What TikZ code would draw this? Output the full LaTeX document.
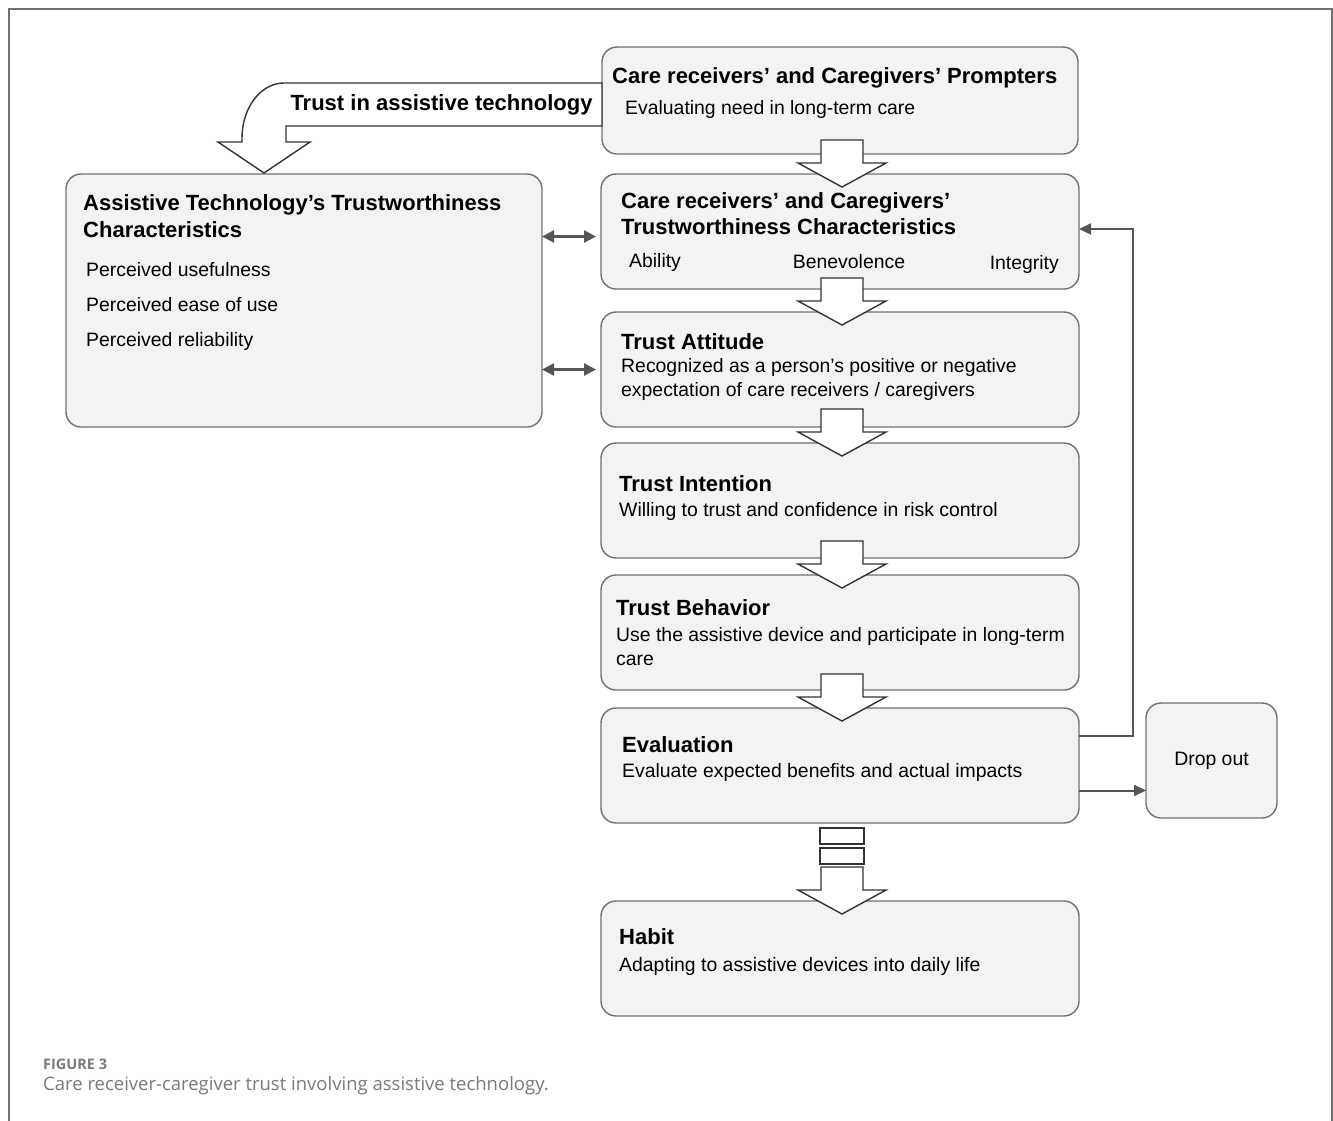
\documentclass[tikz,border=0pt]{standalone}
\usepackage{fontspec}
\setmainfont{Liberation Sans}
\newfontfamily\capfont{Open Sans}
\usetikzlibrary{positioning,arrows.meta}

\definecolor{boxfill}{HTML}{F3F3F3}
\definecolor{boxline}{HTML}{707070}
\definecolor{linkgray}{HTML}{555555}
\definecolor{capgray}{HTML}{7A7A7A}

\newcommand{\boxtitle}[1]{{\fontsize{22}{26}\selectfont\bfseries #1}}
\newcommand{\bodyfont}{\fontsize{19.4}{23.5}\selectfont}

\begin{document}
\begin{tikzpicture}[x=1pt, y=-1pt,
    main/.style = {draw=boxline, fill=boxfill, line width=1.4pt, rounded corners=15pt,
        minimum width=478pt, minimum height=115pt, inner sep=0pt, outer sep=0pt},
    txt/.style = {anchor=north west, align=left, inner sep=0pt, font=\bodyfont},
    item/.style = {inner sep=0pt, font=\bodyfont},
    blk/.style = {draw=black!80, fill=white, line width=1.4pt},
    link/.style = {draw=linkgray, line width=2pt, -{Triangle[length=12pt,width=11pt]}},
    both/.style = {draw=linkgray, line width=2.6pt, {Triangle[length=12pt,width=12pt]}-{Triangle[length=12pt,width=12pt]}}]
    \useasboundingbox (0,0) rectangle (1333,1120);
    \draw[boxline, line width=1.5pt] (9,1130) -- (9,9) -- (1332,9) -- (1332,1130);

    \node[main, minimum width=476pt, minimum height=107pt] (1) at (840,100.5) {};
    \node[main, below=20pt of 1] (2) {};
    \node[main, below=23pt of 2] (3) {};
    \node[main, below=16pt of 3] (4) {};
    \node[main, below=17pt of 4] (5) {};
    \node[main, below=18pt of 5] (6) {};
    \node[main, below=78pt of 6] (7) {};
    \node[main, minimum width=476pt, minimum height=253pt, anchor=north east] (8) at ([xshift=-59pt]2.north west) {};
    \node[main, minimum width=131pt, right=67pt of 6, yshift=5pt, font=\bodyfont] (9) {Drop out};

    \node[txt] (1t) at ([shift={(10,20)}]1.north west) {\boxtitle{Care receivers’ and Caregivers’ Prompters}\\[7.5pt]\hspace*{13pt}Evaluating need in long-term care};
    \node[txt] (2t) at ([shift={(20,18)}]2.north west) {\boxtitle{Care receivers’ and Caregivers’}\\[2.5pt]\boxtitle{Trustworthiness Characteristics}};
    \node[item, anchor=west] (ab) at ([shift={(28,88)}]2.north west) {Ability};
    \node[item] (be) at ([shift={(248,88)}]2.north west) {Benevolence};
    \node[item, anchor=east] (in) at ([shift={(458,90)}]2.north west) {Integrity};
    \node[txt] (3t) at ([shift={(20,21)}]3.north west) {\boxtitle{Trust Attitude}\\Recognized as a person’s positive or negative\\expectation of care receivers / caregivers};
    \node[txt] (4t) at ([shift={(18,32)}]4.north west) {\boxtitle{Trust Intention}\\[1.5pt]Willing to trust and confidence in risk control};
    \node[txt] (5t) at ([shift={(15,24)}]5.north west) {\boxtitle{Trust Behavior}\\[3pt]Use the assistive device and participate in long-term\\care};
    \node[txt] (6t) at ([shift={(21,28)}]6.north west) {\boxtitle{Evaluation}\\[1.5pt]Evaluate expected benefits and actual impacts};
    \node[txt] (7t) at ([shift={(18,27)}]7.north west) {\boxtitle{Habit}\\[4pt]Adapting to assistive devices into daily life};
    \node[txt] (8t) at ([shift={(17,20)}]8.north west) {\boxtitle{Assistive Technology’s Trustworthiness}\\[3.5pt]\boxtitle{Characteristics}\\[15.5pt]\hspace*{3pt}Perceived usefulness\\[11.5pt]\hspace*{3pt}Perceived ease of use\\[11.5pt]\hspace*{3pt}Perceived reliability};

    \draw[blk] (602,83) -- (284,83) arc[start angle=90, end angle=180, x radius=42pt, y radius=55pt]
        -- (242,142) -- (218,142) -- (264,173) -- (310,142) -- (286,142) -- (286,126) -- (602,126) -- cycle;
    \node[inner sep=0pt] (lbl) at (441.5,105) {\boxtitle{Trust in assistive technology}};

    \foreach \b in {2,...,7}
        \draw[blk] ([xshift=-19pt,yshift=34pt]\b.north) -- ++(0,23) -- ++(-23,0) -- ++(44,24) -- ++(44,-24) -- ++(-23,0) -- ++(0,-23) -- cycle;
    \draw[blk] ([xshift=-20pt,yshift=73pt]7.north) rectangle ++(44,16);
    \draw[blk] ([xshift=-20pt,yshift=53pt]7.north) rectangle ++(44,16);

    \draw[both] (8.east |- 2.west) ++(0,5) -- ([xshift=-5pt,yshift=-5pt]2.west);
    \draw[both] (8.east |- 3.west) -- ([xshift=-5pt]3.west);
    \draw[link] ([yshift=30pt]6.east) -- ++(54,0) |- ([yshift=2.5pt]2.east);
    \draw[link] ([yshift=-25pt]6.east) coordinate (d) -- (d -| 9.west);

    \node[anchor=west, inner sep=0pt, text=capgray, font=\capfont\bfseries\fontsize{14.5}{17}\selectfont] (fig) at (43,1064) {FIGURE 3};
    \node[anchor=west, inner sep=0pt, text=capgray, font=\capfont\fontsize{18.5}{22}\selectfont] (cap) at (43,1086) {Care receiver-caregiver trust involving assistive technology.};
\end{tikzpicture}
\end{document}
